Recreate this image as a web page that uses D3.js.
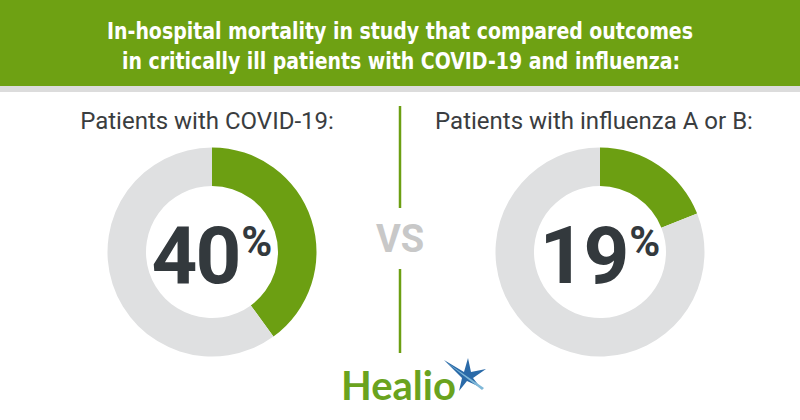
<!DOCTYPE html>
<html><head><meta charset="utf-8">
<script src="https://cdn.jsdelivr.net/npm/d3@7"></script>
<style>html,body{margin:0;padding:0;background:#fff;}svg{display:block;}</style>
</head><body>
<svg id="chart" width="800" height="420"></svg>
<script>
const titleLines = ["In-hospital mortality in study that compared outcomes", "in critically ill patients with COVID-19 and influenza:"];
const groups = ["Patients with COVID-19:", "Patients with influenza A or B:"];
const mortality = [40, 19];
const brand = "Healio";

const W = 800, H = 420;
const green = "#6c9f12", grey = "#dfe0e1", dark = "#33393d";
const svg = d3.select("#chart");

// header
svg.append("rect").attr("x",0).attr("y",0).attr("width",W).attr("height",86).attr("fill","#6ea113");
svg.append("rect").attr("x",0).attr("y",86).attr("width",W).attr("height",6).attr("fill","#dcdcdc");
const tl = [[107,693,39],[122,680,69]];
titleLines.forEach((t,i)=>{
  svg.append("text").attr("x",tl[i][0]).attr("y",tl[i][2])
    .attr("textLength",tl[i][1]-tl[i][0]).attr("lengthAdjust","spacingAndGlyphs")
    .attr("font-family","'Liberation Sans Narrow','DejaVu Sans Condensed',Roboto,sans-serif")
    .attr("font-weight","bold").attr("font-size",23).attr("fill","#fff").text(t);
});

// positions via point scale
const x = d3.scalePoint().domain(groups).range([212,600]);
const cy = 252;
const pie = d3.pie().sort(null).value(d=>d);
const arc = d3.arc().innerRadius(66).outerRadius(104.5);
const labelX = [207, 594];

groups.forEach((g,i)=>{
  const cx = x(g);
  svg.append("text").attr("x",labelX[i]).attr("y",129).attr("text-anchor","middle")
    .attr("font-family","Roboto,sans-serif").attr("font-size",24).attr("fill","#3a3d40").text(g);
  const gg = svg.append("g").attr("transform",`translate(${cx},${cy})`);
  gg.selectAll("path").data(pie([mortality[i], 100-mortality[i]])).join("path")
    .attr("d",arc).attr("fill",(d,j)=>j===0?green:grey);
  const t = gg.append("text").attr("y",31).attr("text-anchor","middle")
    .attr("font-family","Roboto,sans-serif").attr("font-weight","bold").attr("fill",dark);
  t.append("tspan").attr("font-size",80).attr("letter-spacing",-2).text(mortality[i]);
  t.append("tspan").attr("font-size",42).attr("dx",2).attr("dy",-27).text("%");
});

// divider
svg.append("line").attr("x1",400).attr("x2",400).attr("y1",106).attr("y2",208).attr("stroke",green).attr("stroke-width",2.5);
svg.append("line").attr("x1",400).attr("x2",400).attr("y1",269).attr("y2",353).attr("stroke",green).attr("stroke-width",2.5);
svg.append("text").attr("x",400).attr("y",252).attr("text-anchor","middle")
  .attr("font-family","Roboto,sans-serif").attr("font-weight","bold").attr("font-size",38).attr("fill","#c8c8c8").text("VS");

// logo
svg.append("text").attr("x",341).attr("y",400).attr("font-family","Lato,'Open Sans',sans-serif")
  .attr("font-weight","bold").attr("font-size",40).attr("fill","#6aa31e").text(brand);
const star = svg.append("g").attr("transform","translate(462,375)");
star.append("path").attr("d","M-18,-15 L2,-3 L6,-17 L9,-3 L24,-6 L11,3 L18,12 L5,6 L-3,16 L0,3 Z").attr("fill","#2a6aa8");
star.append("path").attr("d","M-16,-13 L22,13 L20,15 Z").attr("fill","#7fb8d8");
</script>
</body></html>
